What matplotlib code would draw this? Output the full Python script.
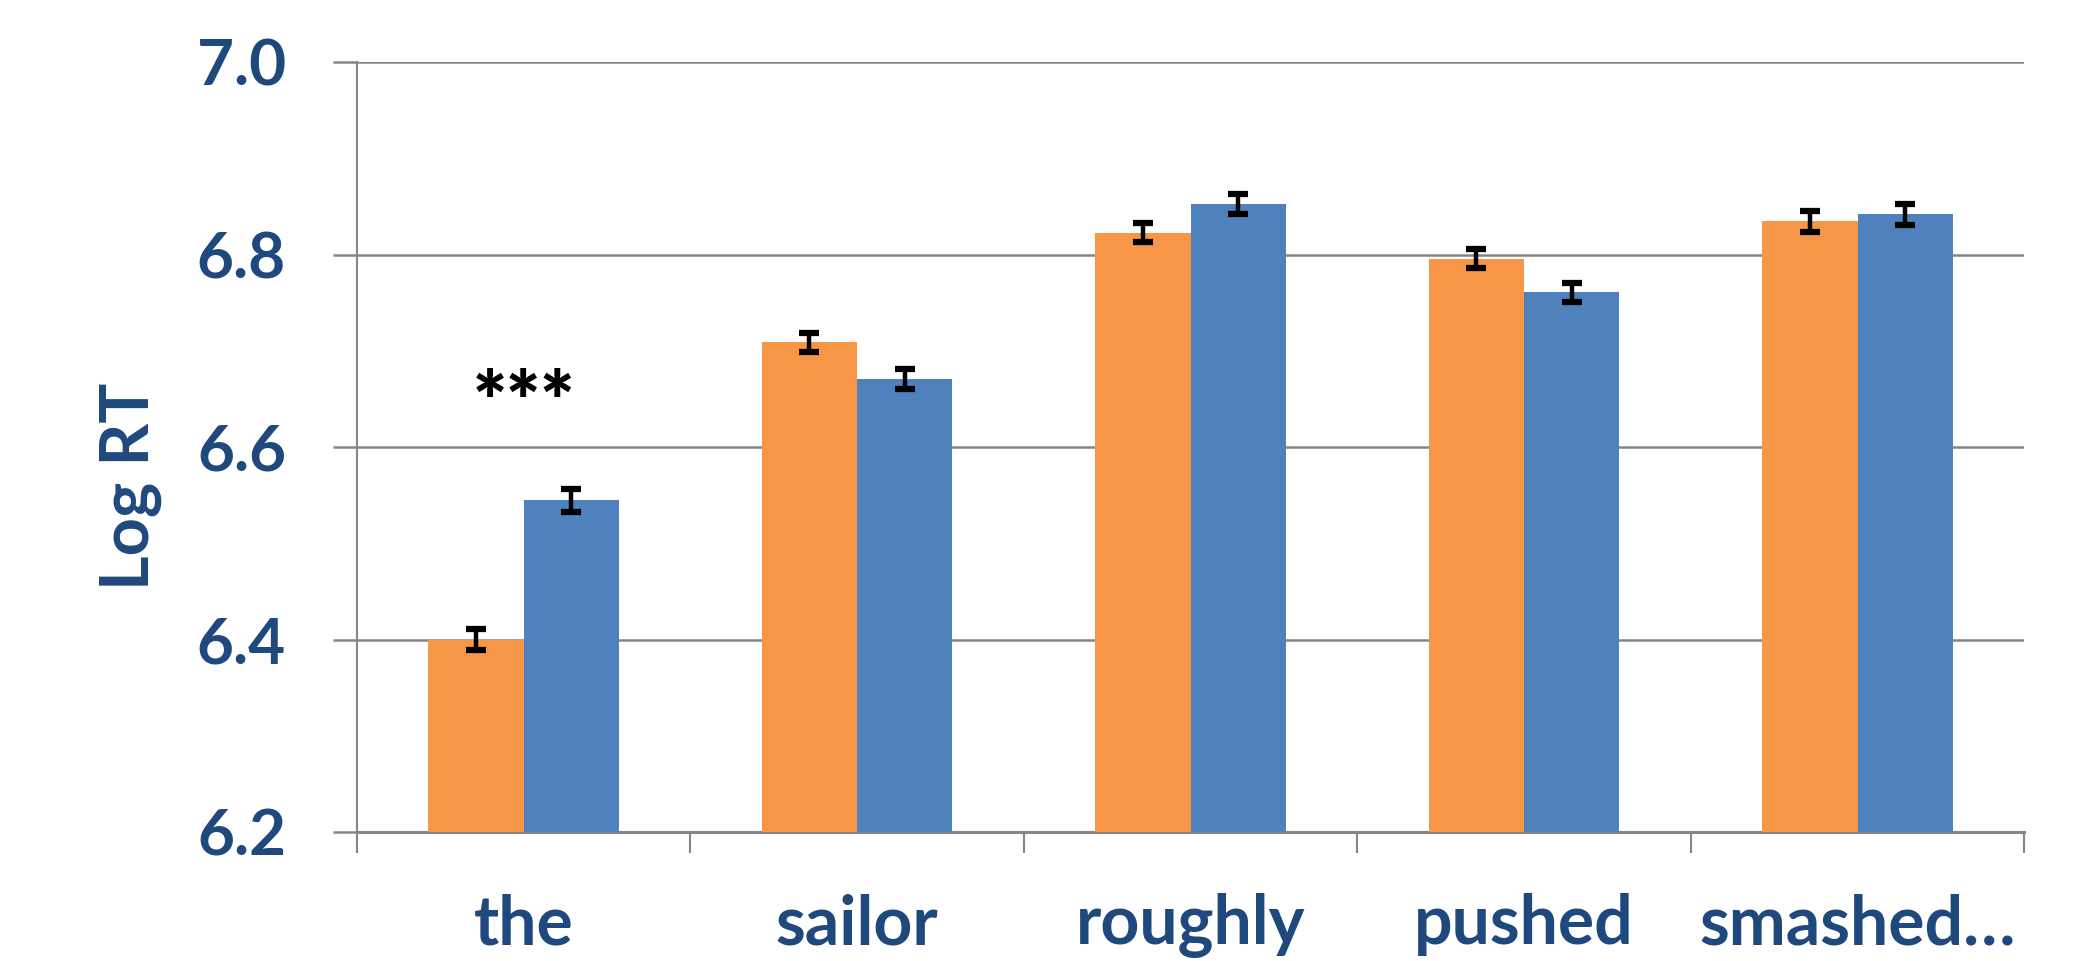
import matplotlib
matplotlib.use("Agg")
from matplotlib import pyplot as plt
import numpy as np

plt.rcParams['font.family'] = ['Lato', 'DejaVu Sans']
plt.rcParams['font.weight'] = 'bold'

# values
words = ['the', 'sailor', 'roughly', 'pushed', 'smashed…']
orange_vals = [6.400, 6.709, 6.823, 6.796, 6.835]
blue_vals = [6.545, 6.671, 6.853, 6.761, 6.842]
orange_err = [0.011, 0.010, 0.010, 0.010, 0.011]
blue_err = [0.012, 0.010, 0.010, 0.010, 0.011]
yticks = [6.2, 6.4, 6.6, 6.8, 7.0]

text_col = '#1F497D'
grid_col = '#868686'
orange_col = '#F79646'
blue_col = '#4F81BD'

fig = plt.figure(figsize=(20.87, 9.61), dpi=100)
ax = fig.add_axes([0.171, 0.134, 0.799, 0.801])

x = np.arange(len(words))
w = 1 / 3.5
base = 6.2

ax.bar(x - w / 2, np.array(orange_vals) - base, w, bottom=base,
       color=orange_col, zorder=3)
ax.bar(x + w / 2, np.array(blue_vals) - base, w, bottom=base,
       color=blue_col, zorder=3)
ax.errorbar(x - w / 2, orange_vals, yerr=orange_err, fmt='none',
            ecolor='black', elinewidth=3.2, capsize=7.5, capthick=4.5, zorder=4)
ax.errorbar(x + w / 2, blue_vals, yerr=blue_err, fmt='none',
            ecolor='black', elinewidth=3.2, capsize=7.5, capthick=4.5, zorder=4)

# significance marker over "the"
ax.text(x[0], 6.618, '***', ha='center', va='baseline', fontsize=58,
        color='black', fontweight='heavy')

ax.set_xlim(-0.5, len(words) - 0.5)
ax.set_ylim(6.2, 7.0)

# gridlines
ax.set_yticks(yticks)
ax.set_yticklabels([f'{v:.1f}' for v in yticks])
ax.yaxis.grid(True, color=grid_col, linewidth=1.8, zorder=0)
ax.set_axisbelow(True)
ax.tick_params(axis='y', length=17, width=1.8, color=grid_col, pad=34,
               labelsize=46, labelcolor=text_col)

# category boundaries as ticks, labels at centres
ax.set_xticks(np.arange(len(words) + 1) - 0.5)
ax.set_xticklabels([])
ax.set_xticks(x, minor=True)
ax.set_xticklabels(words, minor=True)
ax.tick_params(axis='x', which='major', length=15, width=1.5, color=grid_col)
ax.tick_params(axis='x', which='minor', length=0, pad=44,
               labelsize=49, labelcolor=text_col)

for s in ['top', 'right']:
    ax.spines[s].set_visible(False)
ax.spines['left'].set_color(grid_col)
ax.spines['left'].set_linewidth(1.5)
ax.spines['bottom'].set_color(grid_col)
ax.spines['bottom'].set_linewidth(2.2)

ax.set_ylabel('Log RT', fontsize=48, color=text_col, fontweight='bold')
ax.yaxis.set_label_coords(-0.117, 0.45)

fig.savefig('out.png', dpi=100)
